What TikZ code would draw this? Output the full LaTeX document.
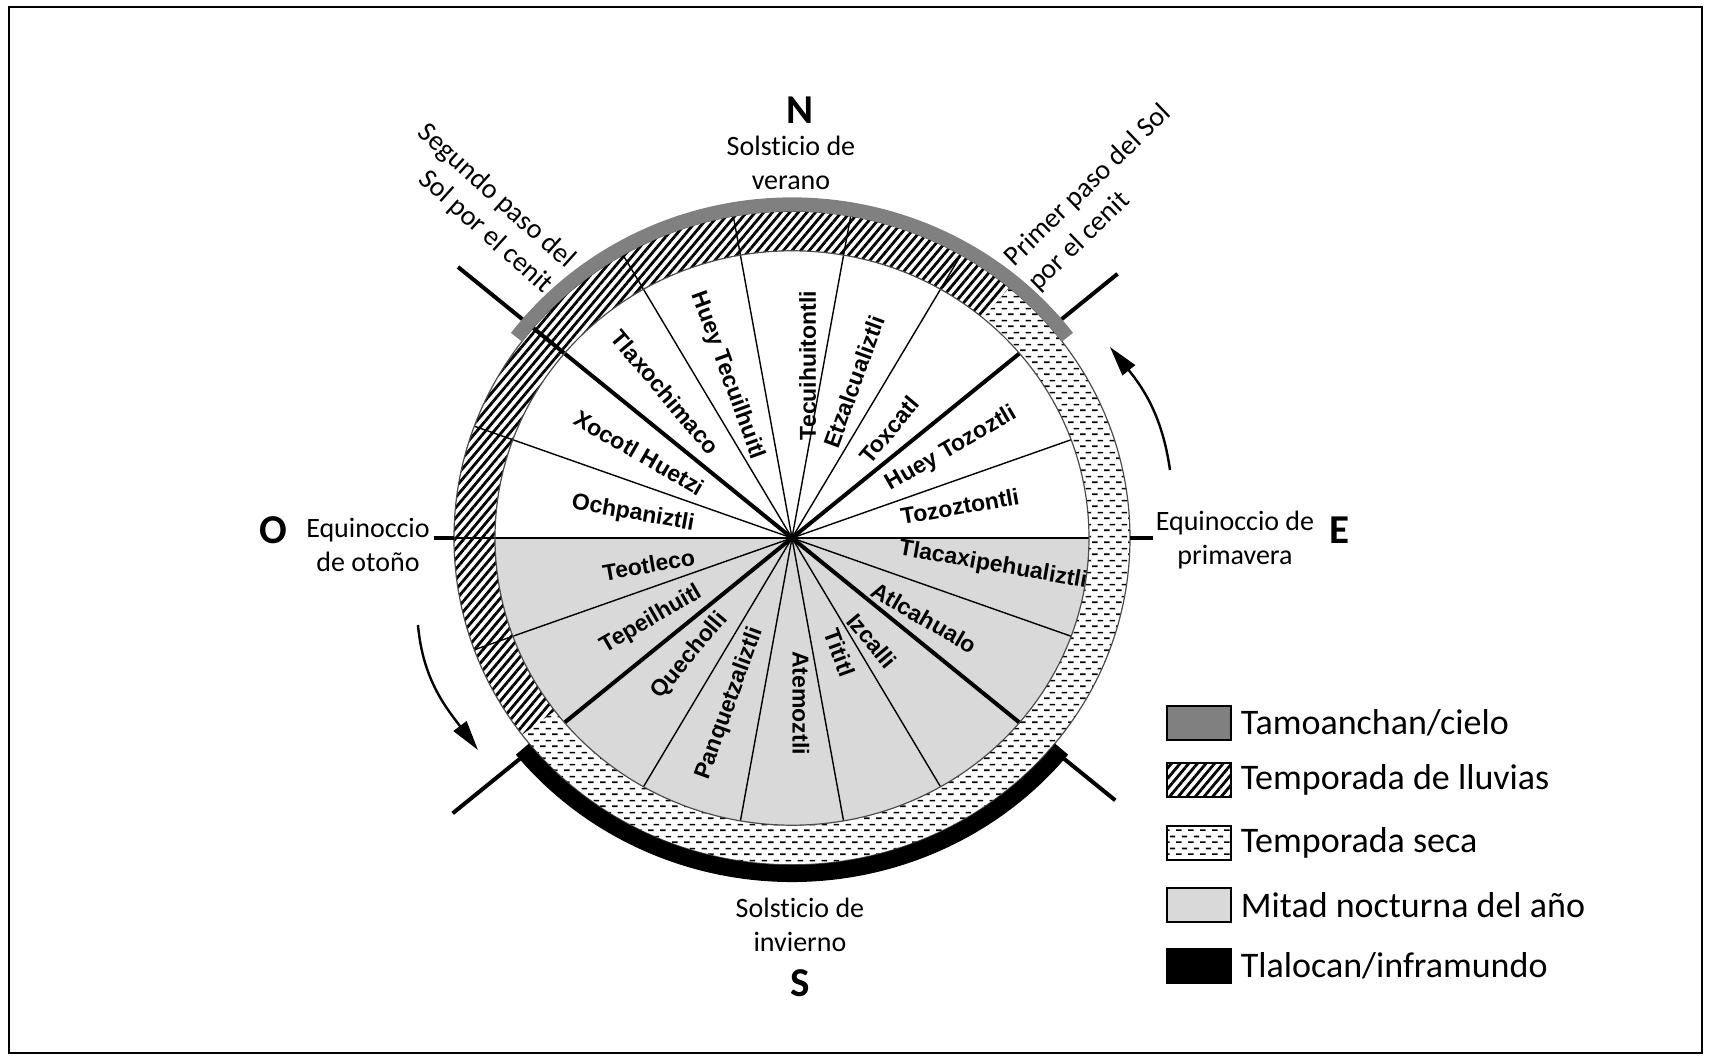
\documentclass[tikz,border=0pt]{standalone}
\usepackage{fontspec}
\setmainfont{Carlito}[Ligatures=NoCommon]
\newfontfamily\monthfont{Liberation Sans}
\usetikzlibrary{positioning,patterns,patterns.meta,arrows.meta}

% dry season: staggered short dashes
\tikzdeclarepattern{
  name=seca,
  type=uncolored,
  bounding box={(0pt,0pt) and (6pt,6pt)},
  tile size={(6pt,6pt)},
  code={\draw[line width=0.85pt] (0.1pt,1.5pt) -- (3pt,1.5pt) (3.1pt,4.5pt) -- (6pt,4.5pt);}
}

\tikzset{
  lluvia/.style={pattern={Lines[angle=50,distance=3.3pt,line width=1.4pt]}},
  seca/.style={pattern=seca},
  ray/.style={line width=0.7pt},
  thickray/.style={line width=2pt},
  tick/.style={line width=2pt},
  month/.style={font=\monthfont\bfseries\fontsize{11.5}{13}\selectfont, inner sep=0pt},
  dirlbl/.style={font=\bfseries\fontsize{20.5}{24}\selectfont},
  note/.style={font=\fontsize{14}{17}\selectfont, align=center},
  legbox/.style={draw, line width=0.8pt, minimum width=32pt, minimum height=17pt, inner sep=0pt},
  legtext/.style={font=\fontsize{18}{21}\selectfont},
  flow/.style={line width=1.2pt, -{Triangle[length=15pt,width=8pt]}}
}

\begin{document}
\begin{tikzpicture}[x=0.5pt,y=0.5pt]
\useasboundingbox (-792,-523) rectangle (918,538);
\fill[white] (-792,-523) rectangle (918,538);
\draw[line width=1pt] (-783,-515) rectangle (910,531);

\begin{scope}[yscale=0.967]
  % night half
  \fill[gray!30] (0:297) arc (0:-180:297) -- cycle;
  % seasons ring
  \fill[lluvia] (50:297) arc (50:217:297) -- (217:338) arc (217:50:338) -- cycle;
  \fill[seca] (217:297) arc (217:410:297) -- (410:338) arc (410:217:338) -- cycle;
  % veintenas
  \foreach \a in {0,20,240,260,280,300,340}
    \draw[ray] (0,0) -- (\a:297);
  \foreach \a in {60,80,100,120,160,180,200}
    \draw[ray] (0,0) -- (\a:338);
  \foreach \a in {40,220,320}
    \draw[thickray] (0,0) -- (\a:297);
  \draw[thickray] (0,0) -- (140:436);
  \draw[tick] (40:345) -- (40:425);
  \draw[tick] (220:350) -- (220:443);
  \draw[tick] (320:350) -- (320:422);
  \draw[black!70, line width=0.6pt] (0,0) circle (297) (0,0) circle (338);
  % cielo / inframundo
  \draw[gray, line width=7pt] (37:345) arc (37:143:345);
  \draw[black, line width=8.5pt] (219:347) arc (219:321:347);
  \foreach \rot/\pos/\dist/\lbl in {10/11/171/Tozoztontli, 30/30/184/Huey Tozoztli,
      50/49/148/Toxcatl, 70/69/173/Etzalcualiztli, 90/85/179/Tecuihuitontli,
      -70/111/180/Huey Tecuilhuitl, -50/130/197/Tlaxochimaco, -30/150/176/Xocotl Huetzi,
      -10/171/161/Ochpaniztli, 10/191/146/Teotleco, 30/211/164/Tepeilhuitl,
      50/230/159/Quecholli, 70/250/182/Panquetzaliztli, -90/273/171/Atemoztli,
      -70/292/128/Tititl, -50/307/133/Izcalli, -30/328/156/Atlcahualo,
      -10/352/203/Tlacaxipehualiztli}
    \node[month, rotate=\rot] (m\pos) at (\pos:\dist) {\lbl};
\end{scope}

% equinoxes
\draw[tick] (-358,0) -- (-338,0);
\draw[tick] (338,0) -- (361,0);

\node[dirlbl] (north) at (8,428) {N};
\node[note] (verano) at (-1,375) {Solsticio de\\verano};
\node[note] (invierno) at (8,-387) {Solsticio de\\invierno};
\node[dirlbl] (south) at (8,-445) {S};
\node[dirlbl] (west) at (-519,8) {O};
\node[note] (otono) at (-424,-7) {Equinoccio\\de otoño};
\node[note] (prim) at (443,-2) {Equinoccio de\\primavera};
\node[dirlbl] (east) at (547,8) {E};
\node[note, align=right, rotate=-42] (paso2) at (-307,329) {Segundo paso del\\Sol por el cenit};
\node[note, align=left, rotate=44] (paso1) at (308,340) {Primer paso del Sol\\por el cenit};

% sun path
\coordinate (ea) at (378,68);
\coordinate (eb) at (318,191);
\draw[flow] (ea) to[out=98,in=-51] (eb);
\coordinate (wa) at (-374,-87);
\coordinate (wb) at (-314,-212);
\draw[flow] (wa) to[out=-85,in=127] (wb);

% legend
\node[legbox, fill=gray] (k1) at (407,-185) {};
\node[legtext, right=1pt of k1] (t1) {Tamoanchan/cielo};
\node[legbox, lluvia] (k2) at (407,-242) {};
\node[legtext, right=1pt of k2] (t2) {Temporada de lluvias};
\node[legbox, seca] (k3) at (407,-305) {};
\node[legtext, right=1pt of k3] (t3) {Temporada seca};
\node[legbox, fill=gray!30] (k4) at (407,-367) {};
\node[legtext, right=1pt of k4] (t4) {Mitad nocturna del año};
\node[legbox, fill=black] (k5) at (407,-428) {};
\node[legtext, right=1pt of k5] (t5) {Tlalocan/inframundo};
\end{tikzpicture}
\end{document}
